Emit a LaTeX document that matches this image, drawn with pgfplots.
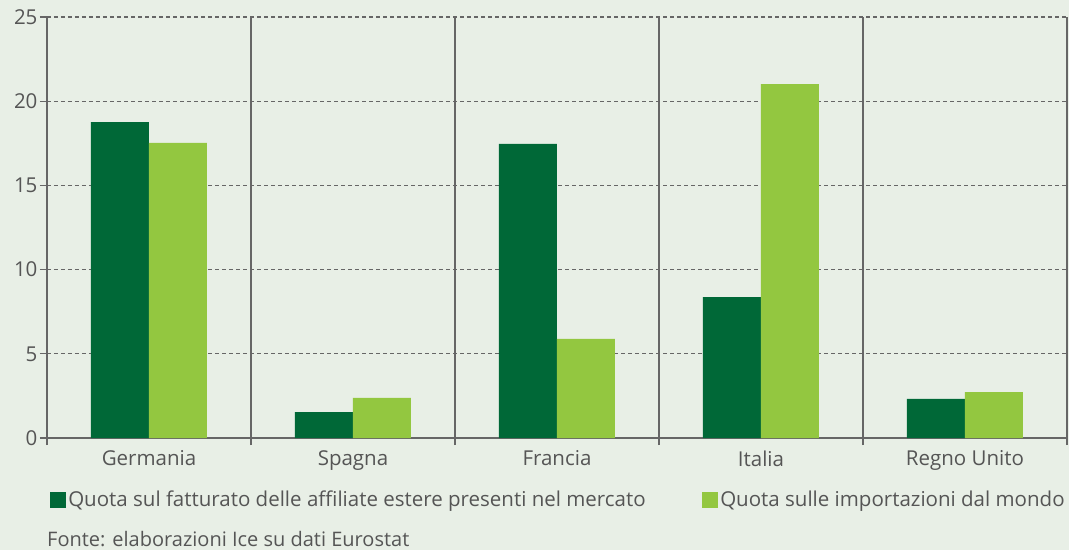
\documentclass[border=0pt]{standalone}
\usepackage{fontspec}
\setmainfont{Open Sans}
\usepackage{pgfplots}
\pgfplotsset{compat=1.18}
\definecolor{bg}{HTML}{E8EFE6}
\definecolor{dk}{HTML}{006837}
\definecolor{lt}{HTML}{93C740}
\definecolor{txt}{HTML}{555555}
\definecolor{ax}{HTML}{666666}
\begin{document}
\begin{tikzpicture}[x=1pt,y=1pt]
\fill[bg] (0,0) rectangle (1069,550);
\useasboundingbox (0,0) rectangle (1069,550);
\begin{axis}[
  at={(47pt,112pt)}, anchor=south west,
  scale only axis, width=1020pt, height=421pt,
  xmin=-0.5, xmax=4.5, ymin=0, ymax=25,
  axis x line*=bottom, axis y line*=left,
  axis line style={ax, line width=1.3pt, -},
  tick align=outside, major tick length=7pt,
  tick style={ax, line width=1.3pt},
  xtick={-0.5,0.5,...,4.5}, xticklabels={},
  extra x ticks={0,1,2,3,4},
  extra x tick labels={Germania,Spagna,Francia,Italia,Regno Unito},
  extra x tick style={major tick length=0pt, grid=none,
    xticklabel style={yshift=-9pt}},
  ytick={0,5,...,25},
  xmajorgrids, ymajorgrids,
  x grid style={ax, line width=1.3pt, solid},
  y grid style={ax, line width=1.2pt, dash pattern=on 4pt off 3pt},
  ticklabel style={font=\fontsize{20.5}{24}\selectfont, text=txt},
  yticklabel style={xshift=1pt},
  /pgf/number format/assume math mode=true,
  ybar=0pt, bar width=58pt,
  legend columns=2,
  legend image code/.code={\fill[#1] (0pt,-8pt) rectangle (16pt,8pt);},
  legend style={draw=none, fill=none, at={(0.003,-0.147)}, anchor=west,
    font=\fontsize{20.5}{24}\selectfont, text=txt, inner sep=0pt,
    nodes={inner sep=2pt},
    /tikz/every even column/.append style={column sep=0pt}},
]
\addplot[fill=dk, draw=none] coordinates {(0,18.76) (1,1.54) (2,17.46) (3,8.37) (4,2.32)};
\addplot[fill=lt, draw=none] coordinates {(0,17.52) (1,2.38) (2,5.88) (3,21.02) (4,2.73)};
\legend{{\makebox[632pt][l]{Quota sul fatturato delle affiliate estere presenti nel mercato}},{Quota sulle importazioni dal mondo}}
\end{axis}
\node[anchor=west, inner sep=0pt, font=\fontsize{20}{24}\selectfont, text=txt] at (47,11) {Fonte: elaborazioni Ice su dati Eurostat};
\end{tikzpicture}
\end{document}
